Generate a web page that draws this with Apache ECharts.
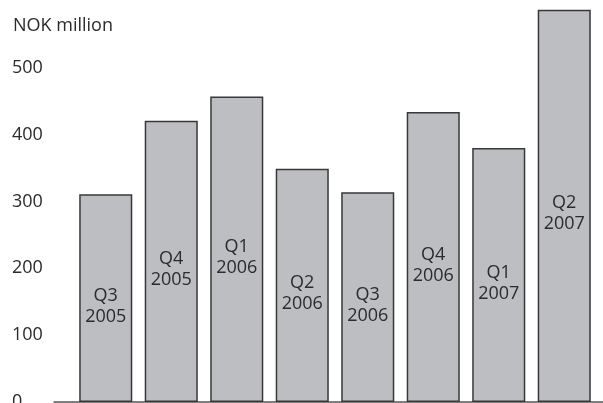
<!DOCTYPE html>
<html>
<head>
<meta charset="utf-8">
<script src="https://cdn.jsdelivr.net/npm/echarts@6/dist/echarts.min.js"></script>
<style>
  html, body { margin: 0; padding: 0; background: #fff; }
  #main { width: 603px; height: 403px; }
</style>
</head>
<body>
<div id="main"></div>
<script>
var quarters = ['Q3', 'Q4', 'Q1', 'Q2', 'Q3', 'Q4', 'Q1', 'Q2'];
var years = ['2005', '2005', '2006', '2006', '2006', '2006', '2007', '2007'];
var values = [311, 421, 457, 349, 314, 434, 380, 587];
var yTicks = [0, 100, 200, 300, 400, 500];

var categories = quarters.map(function (q, i) {
    return q + '\n' + years[i];
});
var font = '"Open Sans", "DejaVu Sans", sans-serif';
var textColor = '#2b2b2b';

var myChart = echarts.init(document.getElementById('main'), null, { renderer: 'canvas' });

var option = {
    backgroundColor: '#ffffff',
    animation: false,
    title: {
        text: 'NOK million',
        left: 8,
        top: 12,
        textStyle: { fontFamily: font, fontSize: 18, fontWeight: 'normal', color: textColor }
    },
    grid: [
        // bars
        { left: 73, right: 6, top: 1, bottom: 1, containLabel: false, outerBoundsMode: 'none' },
        // only for the long baseline
        { left: 54, right: 0, top: 1, bottom: 1, containLabel: false, outerBoundsMode: 'none' }
    ],
    xAxis: [{
        type: 'category',
        data: categories,
        axisLine: { show: false },
        axisTick: { show: false },
        axisLabel: { show: false }
    }, {
        type: 'category',
        gridIndex: 1,
        data: [''],
        axisLine: { show: true, lineStyle: { color: '#555', width: 1.5 } },
        axisTick: { show: false },
        axisLabel: { show: false }
    }],
    yAxis: [{
        type: 'value',
        min: 0,
        max: 600,
        interval: 100,
        axisLine: { show: false },
        axisTick: { show: false },
        splitLine: { show: false },
        axisLabel: {
            align: 'left',
            margin: 61,
            fontFamily: font,
            fontSize: 18,
            color: textColor,
            formatter: function (v) {
                return yTicks.indexOf(v) >= 0 ? String(v) : '';
            }
        }
    }, {
        type: 'value',
        gridIndex: 1,
        min: 0,
        max: 600,
        show: false
    }],
    series: [{
        type: 'bar',
        data: values,
        barCategoryGap: '19%',
        itemStyle: {
            color: '#bdbec2',
            borderColor: '#383838',
            borderWidth: 1.5
        },
        label: {
            show: true,
            position: 'inside',
            offset: [0, 8],
            formatter: '{b}',
            fontFamily: font,
            fontSize: 18,
            lineHeight: 21,
            color: textColor
        }
    }]
};

myChart.setOption(option);
window.addEventListener('resize', myChart.resize);
</script>
</body>
</html>
